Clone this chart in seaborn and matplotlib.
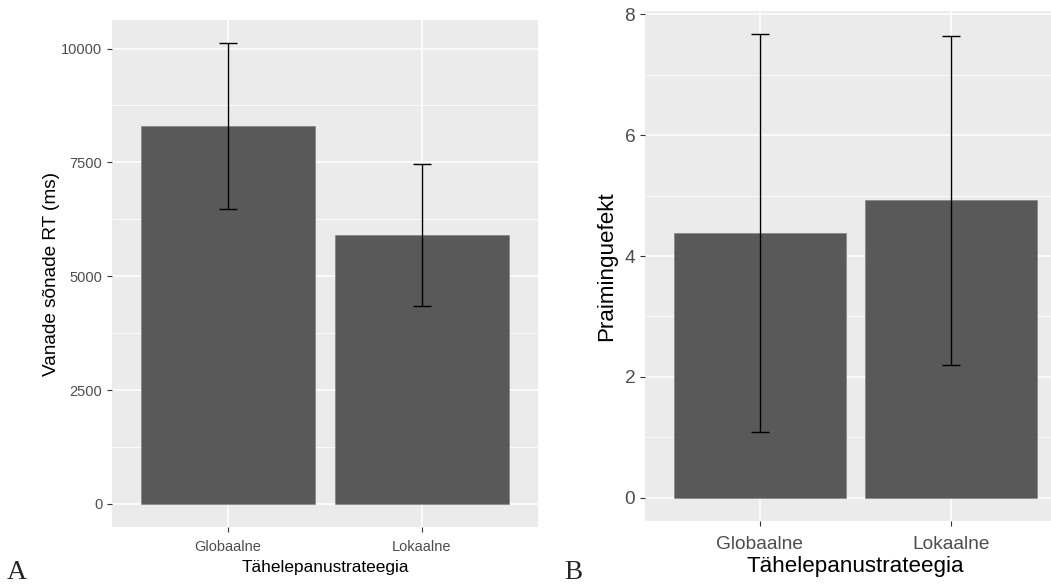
"""Two-panel bar chart with error bars (A: RT of old words, B: priming effect)."""

import matplotlib.pyplot as plt
import pandas as pd
import seaborn as sns

# Data
strategies = ["Globaalne", "Lokaalne"]
rt_means = [8300, 5900]
rt_err = [1820, 1560]
priming_means = [4.38, 4.92]
priming_err = [3.29, 2.72]

panel_a_ticks = [0, 2500, 5000, 7500, 10000]
panel_b_ticks = [0, 2, 4, 6, 8]

sns.set_theme(style="darkgrid")
plt.rcParams["font.family"] = ["Liberation Sans", "DejaVu Sans"]

BAR_COLOR = "#595959"
PANEL_BG = "#EBEBEB"


def draw_panel(ax, means, errs, ticks, ylabel, sizes, pads):
    tick_size, xlabel_size, ylabel_size = sizes
    xtick_pad, xlabel_pad, ylabel_pad = pads

    df = pd.DataFrame({"strategy": strategies, "value": means})
    sns.barplot(data=df, x="strategy", y="value", color=BAR_COLOR,
                width=0.9, errorbar=None, saturation=1, ax=ax)
    for patch in ax.patches:
        patch.set_edgecolor("#7a7a7a")
        patch.set_linewidth(0.4)
    ax.errorbar(range(len(means)), means, yerr=errs, fmt="none",
                ecolor="black", elinewidth=1.0, capsize=6.8, capthick=1.0,
                zorder=5)

    # ggplot-like expansion of the scales
    lo = min(0, min(m - e for m, e in zip(means, errs)))
    hi = max(m + e for m, e in zip(means, errs))
    pad = 0.05 * (hi - lo)
    ax.set_ylim(lo - pad, hi + pad)
    ax.set_xlim(-0.6, len(means) - 0.4)

    ax.set_yticks(ticks)
    step = ticks[1] - ticks[0]
    ax.set_yticks([t + step / 2 for t in ticks[:-1]], minor=True)
    ax.set_facecolor(PANEL_BG)
    ax.grid(which="major", color="white", linewidth=1.1)
    ax.grid(which="minor", axis="y", color="white", linewidth=0.55)
    ax.set_axisbelow(True)
    for spine in ax.spines.values():
        spine.set_visible(False)
    ax.tick_params(axis="both", which="major", length=3.4, width=0.8,
                   color="#333333", labelcolor="#4D4D4D",
                   labelsize=tick_size, bottom=True, left=True)
    ax.tick_params(axis="y", which="major", pad=3.6)
    ax.tick_params(axis="x", which="major", pad=xtick_pad)
    ax.tick_params(which="minor", length=0)
    ax.set_xlabel("Tähelepanustrateegia", fontsize=xlabel_size,
                  color="black", labelpad=xlabel_pad)
    ax.set_ylabel(ylabel, fontsize=ylabel_size, color="black",
                  labelpad=ylabel_pad)


fig = plt.figure(figsize=(10.51, 5.85), dpi=100)
ax_a = fig.add_axes([112 / 1051, 58 / 585, 426 / 1051, 507 / 585])
ax_b = fig.add_axes([645 / 1051, 64 / 585, 421 / 1051, 510 / 585])

draw_panel(ax_a, rt_means, rt_err, panel_a_ticks, "Vanade sõnade RT (ms)",
           sizes=(10.5, 12.4, 13.7), pads=(6.0, 4.3, 1.0))
draw_panel(ax_b, priming_means, priming_err, panel_b_ticks, "Praiminguefekt",
           sizes=(13.8, 16.1, 16.1), pads=(7.5, 2.0, 5.0))

fig.text(7 / 1051, 0, "A", family="Liberation Serif", fontsize=20,
         ha="left", va="bottom")
fig.text(564 / 1051, 0, "B", family="Liberation Serif", fontsize=19.5,
         ha="left", va="bottom")

fig.savefig("out.png", dpi=100)
plt.close(fig)
